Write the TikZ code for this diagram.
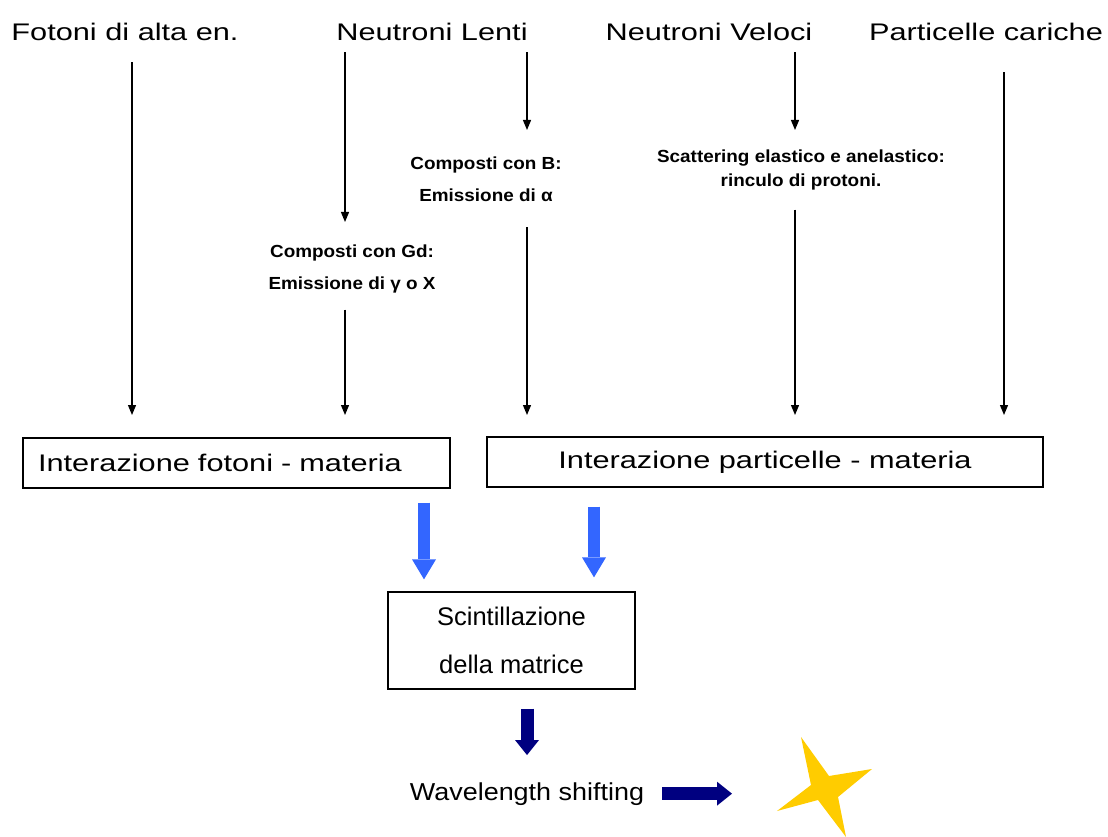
\documentclass[tikz,border=0pt]{standalone}
\usepackage{fontspec}
\setmainfont{Liberation Sans}
\newfontfamily\widesf[FakeStretch=1.28]{Liberation Sans}
\newfontfamily\midsf[FakeStretch=1.1]{Liberation Sans}
\newfontfamily\notesf[FakeStretch=1.08]{Liberation Sans}
\definecolor{scintblue}{HTML}{3366FF}
\definecolor{wlsnavy}{HTML}{000080}
\definecolor{staryellow}{HTML}{FFCC00}
\usetikzlibrary{calc,positioning,arrows.meta}

\begin{document}
\begin{tikzpicture}[x=1pt,y=-1pt,
    toplabel/.style={anchor=base,inner sep=2pt,font=\widesf\fontsize{24}{28}\selectfont},
    note/.style={anchor=north,align=center,inner sep=2pt,
                 font=\notesf\bfseries\fontsize{17.5}{32}\selectfont},
    box/.style={draw,line width=1.3pt,inner sep=0pt,align=center},
    thinarr/.style={-{Triangle[width=8pt,length=10pt]},line width=1.2pt},
    bluearr/.style={draw=scintblue,line width=12pt,
                    -{Triangle[width=24pt,length=20pt,line width=0pt]}},
    navyarr/.style={draw=wlsnavy,line width=13pt,
                    -{Triangle[width=24pt,length=15pt,line width=0pt]}}]

  \useasboundingbox (0,0) rectangle (1108,837);

  % sorgenti di radiazione
  \node[toplabel] (fotoni) at (125,41) {Fotoni di alta en.};
  \node[toplabel] (lenti) at (432,41) {Neutroni Lenti};
  \node[toplabel] (veloci) at (709,41) {Neutroni Veloci};
  \node[toplabel] (cariche) at (986,41) {Particelle cariche};

  % processi intermedi
  \node[note] (gd) at (352,243) {Composti con Gd:\\Emissione di γ o X};
  \node[note] (boro) at (486,155) {Composti con B:\\Emissione di α};
  \node[note,font=\notesf\bfseries\fontsize{17.5}{24}\selectfont]
    (scatt) at (801,148) {Scattering elastico e anelastico:\\rinculo di protoni.};

  % interazioni
  \node[box,text width=397pt,align=left,inner xsep=15pt,minimum height=50pt,
        font=\widesf\fontsize{24}{28}\selectfont] (fm) at (236.5,463)
    {Interazione fotoni - materia};
  \node[box,minimum width=556pt,minimum height=50pt,
        font=\widesf\fontsize{24}{28}\selectfont] (pm) at (765,462)
    {Interazione particelle - materia};
  \node[box,minimum width=247pt,minimum height=97pt,
        font=\fontsize{25.5}{48}\selectfont] (scint) at (511.5,640.5)
    {Scintillazione\\della matrice};
  \node[anchor=base,inner sep=2pt,font=\midsf\fontsize{24.5}{28}\selectfont]
    (wls) at (527,800) {Wavelength shifting};

  % punte delle frecce sopra i riquadri
  \coordinate (t1) at (132,415);
  \coordinate (t2) at (345,415);
  \coordinate (t3) at (527,415);
  \coordinate (t4) at (795,415);
  \coordinate (t5) at (1004,415);
  \coordinate (lx) at (424,0);
  \coordinate (rx) at (594,0);
  \coordinate (star) at (823,787);

  \draw[thinarr,shorten <=19pt] (fotoni.south -| t1) -- (t1);
  \draw[thinarr,shorten <=9pt,shorten >=21pt] (lenti.south -| t2) -- (gd.north -| t2);
  \draw[thinarr,shorten <=14pt] (gd.south -| t2) -- (t2);
  \draw[thinarr,shorten <=9pt,shorten >=25pt] (lenti.south -| t3) -- (boro.north -| t3);
  \draw[thinarr,shorten <=23pt] (boro.south -| t3) -- (t3);
  \draw[thinarr,shorten <=9pt,shorten >=18pt] (veloci.south -| t4) -- (scatt.north -| t4);
  \draw[thinarr,shorten <=17pt] (scatt.south -| t4) -- (t4);
  \draw[thinarr,shorten <=29pt] (cariche.south -| t5) -- (t5);

  % verso la scintillazione
  \draw[bluearr,shorten <=14pt,shorten >=12pt] (fm.south -| lx) -- (scint.north -| lx);
  \draw[bluearr,shorten <=19pt,shorten >=14pt] (pm.south -| rx) -- (scint.north -| rx);
  \draw[navyarr,shorten <=19pt,shorten >=25pt] (scint.south -| wls.north) -- (wls.north);
  \draw[navyarr,shorten <=16pt,shorten >=91pt] (wls.east) -- (wls.east -| star);

  % stella gialla
  \fill[staryellow] (801,737) -- (829,776) -- (872,769) -- (838,797)
    -- (846,837) -- (818,800) -- (777,811) -- (811,785) -- cycle;
\end{tikzpicture}
\end{document}
